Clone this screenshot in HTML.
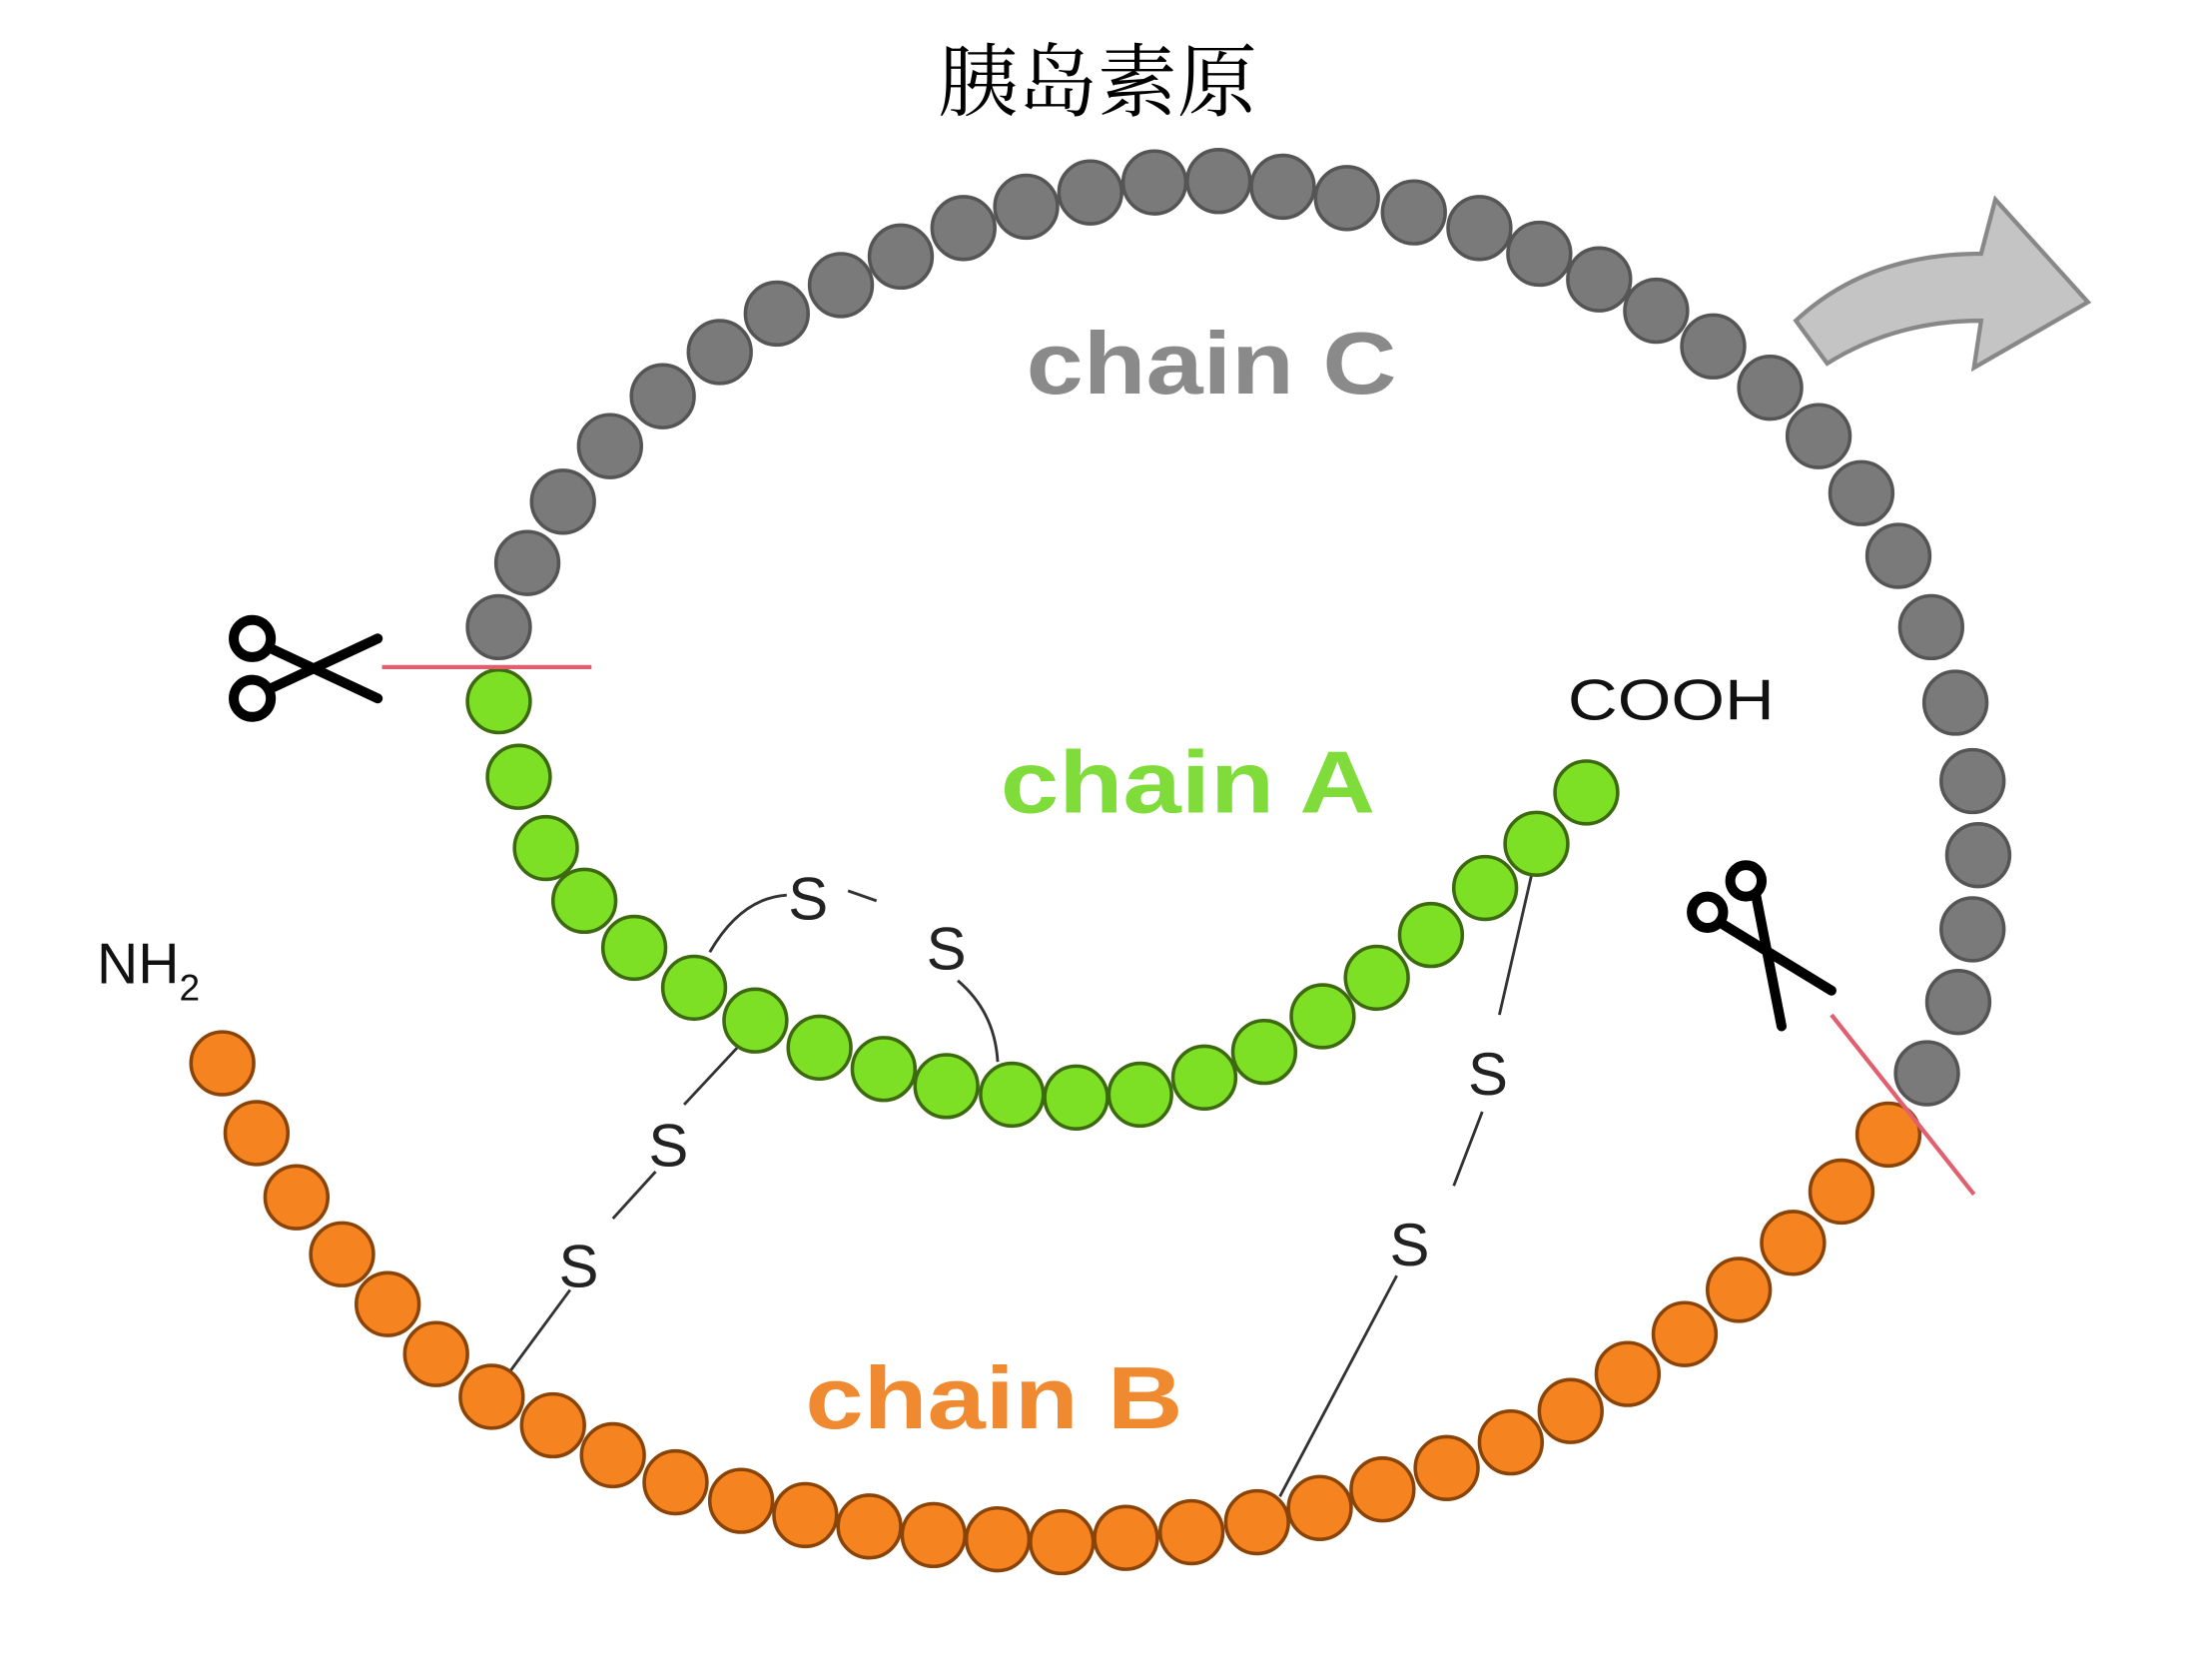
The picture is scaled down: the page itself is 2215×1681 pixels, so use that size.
<!DOCTYPE html>
<html><head><meta charset="utf-8"><style>
html,body{margin:0;padding:0;background:#fff;}
svg{display:block;}
</style></head><body>
<svg width="2215" height="1681" viewBox="0 0 1552 1178" preserveAspectRatio="none" xmlns="http://www.w3.org/2000/svg">
<rect width="1552" height="1178" fill="#fff"/>
<text x="770" y="77" text-anchor="middle" font-family="'Liberation Serif','Noto Serif CJK SC',serif" font-size="56" fill="#000">胰岛素原</text>
<g stroke="#333" stroke-width="2" fill="none">
<path d="M498,668 Q520,630 552,628"/>
<path d="M595,625 L615,632"/>
<path d="M672,688 Q698,710 700,745"/>
<path d="M522,730 L480,775"/>
<path d="M460,822 L430,855"/>
<path d="M400,905 L358,962"/>
<path d="M1075,612 L1052,712"/>
<path d="M1040,780 L1020,832"/>
<path d="M980,895 L898,1050"/>
</g>
<g fill="#7a7a7a" stroke="#555" stroke-width="2.5">
<circle cx="350" cy="440" r="22"/><circle cx="370" cy="395" r="22"/><circle cx="395" cy="352" r="22"/><circle cx="428" cy="313" r="22"/><circle cx="465" cy="278" r="22"/><circle cx="505" cy="247" r="22"/><circle cx="545" cy="220" r="22"/><circle cx="590" cy="200" r="22"/><circle cx="632" cy="180" r="22"/><circle cx="676" cy="160" r="22"/><circle cx="720" cy="145" r="22"/><circle cx="765" cy="135" r="22"/><circle cx="810" cy="128" r="22"/><circle cx="855" cy="127" r="22"/><circle cx="900" cy="131" r="22"/><circle cx="945" cy="139" r="22"/><circle cx="992" cy="149" r="22"/><circle cx="1038" cy="160" r="22"/><circle cx="1080" cy="178" r="22"/><circle cx="1122" cy="196" r="22"/><circle cx="1162" cy="218" r="22"/><circle cx="1202" cy="243" r="22"/><circle cx="1242" cy="272" r="22"/><circle cx="1276" cy="306" r="22"/><circle cx="1306" cy="346" r="22"/><circle cx="1332" cy="390" r="22"/><circle cx="1355" cy="440" r="22"/><circle cx="1372" cy="493" r="22"/><circle cx="1384" cy="548" r="22"/><circle cx="1388" cy="600" r="22"/><circle cx="1384" cy="652" r="22"/><circle cx="1374" cy="703" r="22"/><circle cx="1352" cy="753" r="22"/>
</g>
<g fill="#7de024" stroke="#3d6a10" stroke-width="2.5">
<circle cx="350" cy="492" r="22"/><circle cx="364" cy="545" r="22"/><circle cx="383" cy="595" r="22"/><circle cx="410" cy="632" r="22"/><circle cx="445" cy="665" r="22"/><circle cx="487" cy="693" r="22"/><circle cx="530" cy="716" r="22"/><circle cx="575" cy="735" r="22"/><circle cx="620" cy="750" r="22"/><circle cx="664" cy="762" r="22"/><circle cx="710" cy="768" r="22"/><circle cx="755" cy="770" r="22"/><circle cx="800" cy="768" r="22"/><circle cx="845" cy="756" r="22"/><circle cx="887" cy="738" r="22"/><circle cx="928" cy="713" r="22"/><circle cx="966" cy="686" r="22"/><circle cx="1004" cy="656" r="22"/><circle cx="1042" cy="623" r="22"/><circle cx="1078" cy="592" r="22"/><circle cx="1113" cy="556" r="22"/>
</g>
<g fill="#f5831f" stroke="#8a4408" stroke-width="2.5">
<circle cx="156" cy="746" r="22"/><circle cx="180" cy="795" r="22"/><circle cx="208" cy="840" r="22"/><circle cx="240" cy="880" r="22"/><circle cx="272" cy="915" r="22"/><circle cx="306" cy="950" r="22"/><circle cx="345" cy="980" r="22"/><circle cx="388" cy="1000" r="22"/><circle cx="430" cy="1021" r="22"/><circle cx="474" cy="1040" r="22"/><circle cx="520" cy="1053" r="22"/><circle cx="565" cy="1063" r="22"/><circle cx="610" cy="1071" r="22"/><circle cx="655" cy="1077" r="22"/><circle cx="700" cy="1080" r="22"/><circle cx="745" cy="1082" r="22"/><circle cx="790" cy="1079" r="22"/><circle cx="836" cy="1075" r="22"/><circle cx="882" cy="1068" r="22"/><circle cx="926" cy="1058" r="22"/><circle cx="970" cy="1045" r="22"/><circle cx="1015" cy="1030" r="22"/><circle cx="1060" cy="1012" r="22"/><circle cx="1102" cy="990" r="22"/><circle cx="1142" cy="964" r="22"/><circle cx="1182" cy="936" r="22"/><circle cx="1220" cy="905" r="22"/><circle cx="1258" cy="872" r="22"/><circle cx="1292" cy="836" r="22"/><circle cx="1325" cy="796" r="22"/>
</g>
<g font-family="'Liberation Sans',sans-serif" fill="#222" font-size="42">
<text x="553" y="645">S</text>
<text x="650" y="680">S</text>
<text x="455" y="818">S</text>
<text x="392" y="903">S</text>
<text x="1030" y="768">S</text>
<text x="975" y="888">S</text>
</g>
<g font-family="'Liberation Sans',sans-serif" font-weight="bold" font-size="62">
<text x="720" y="276" fill="#8a8a8a" textLength="260" lengthAdjust="spacingAndGlyphs">chain C</text>
<text x="702" y="570" fill="#7fdc3a" textLength="263" lengthAdjust="spacingAndGlyphs">chain A</text>
<text x="565" y="1002" fill="#f08a30" textLength="265" lengthAdjust="spacingAndGlyphs">chain B</text>
</g>
<text x="1100" y="505" font-family="'Liberation Sans',sans-serif" font-size="40" fill="#111" textLength="145" lengthAdjust="spacingAndGlyphs">COOH</text>
<text x="68" y="690" font-family="'Liberation Sans',sans-serif" font-size="40" fill="#111">NH<tspan font-size="26" dy="12">2</tspan></text>
<line x1="268" y1="468" x2="415" y2="468" stroke="#e06070" stroke-width="3"/>
<line x1="1285" y1="712" x2="1385" y2="838" stroke="#e06070" stroke-width="3"/>
<path d="M1260,225 Q1310,178 1390,178 L1400,140 L1465,212 L1385,258 L1390,225 Q1330,225 1282,255 Z" fill="#c4c4c4" stroke="#888" stroke-width="3"/>
<g stroke="#000" stroke-width="7" fill="none" stroke-linecap="round">
<circle cx="177" cy="448" r="13"/><circle cx="177" cy="490" r="13"/>
<path d="M190,455 L265,490 M190,483 L265,448"/>
<circle cx="1198" cy="640" r="11"/><circle cx="1225" cy="618" r="11"/>
<path d="M1208,648 L1285,695 M1232,628 L1250,720"/>
</g>
</svg>
</body></html>
